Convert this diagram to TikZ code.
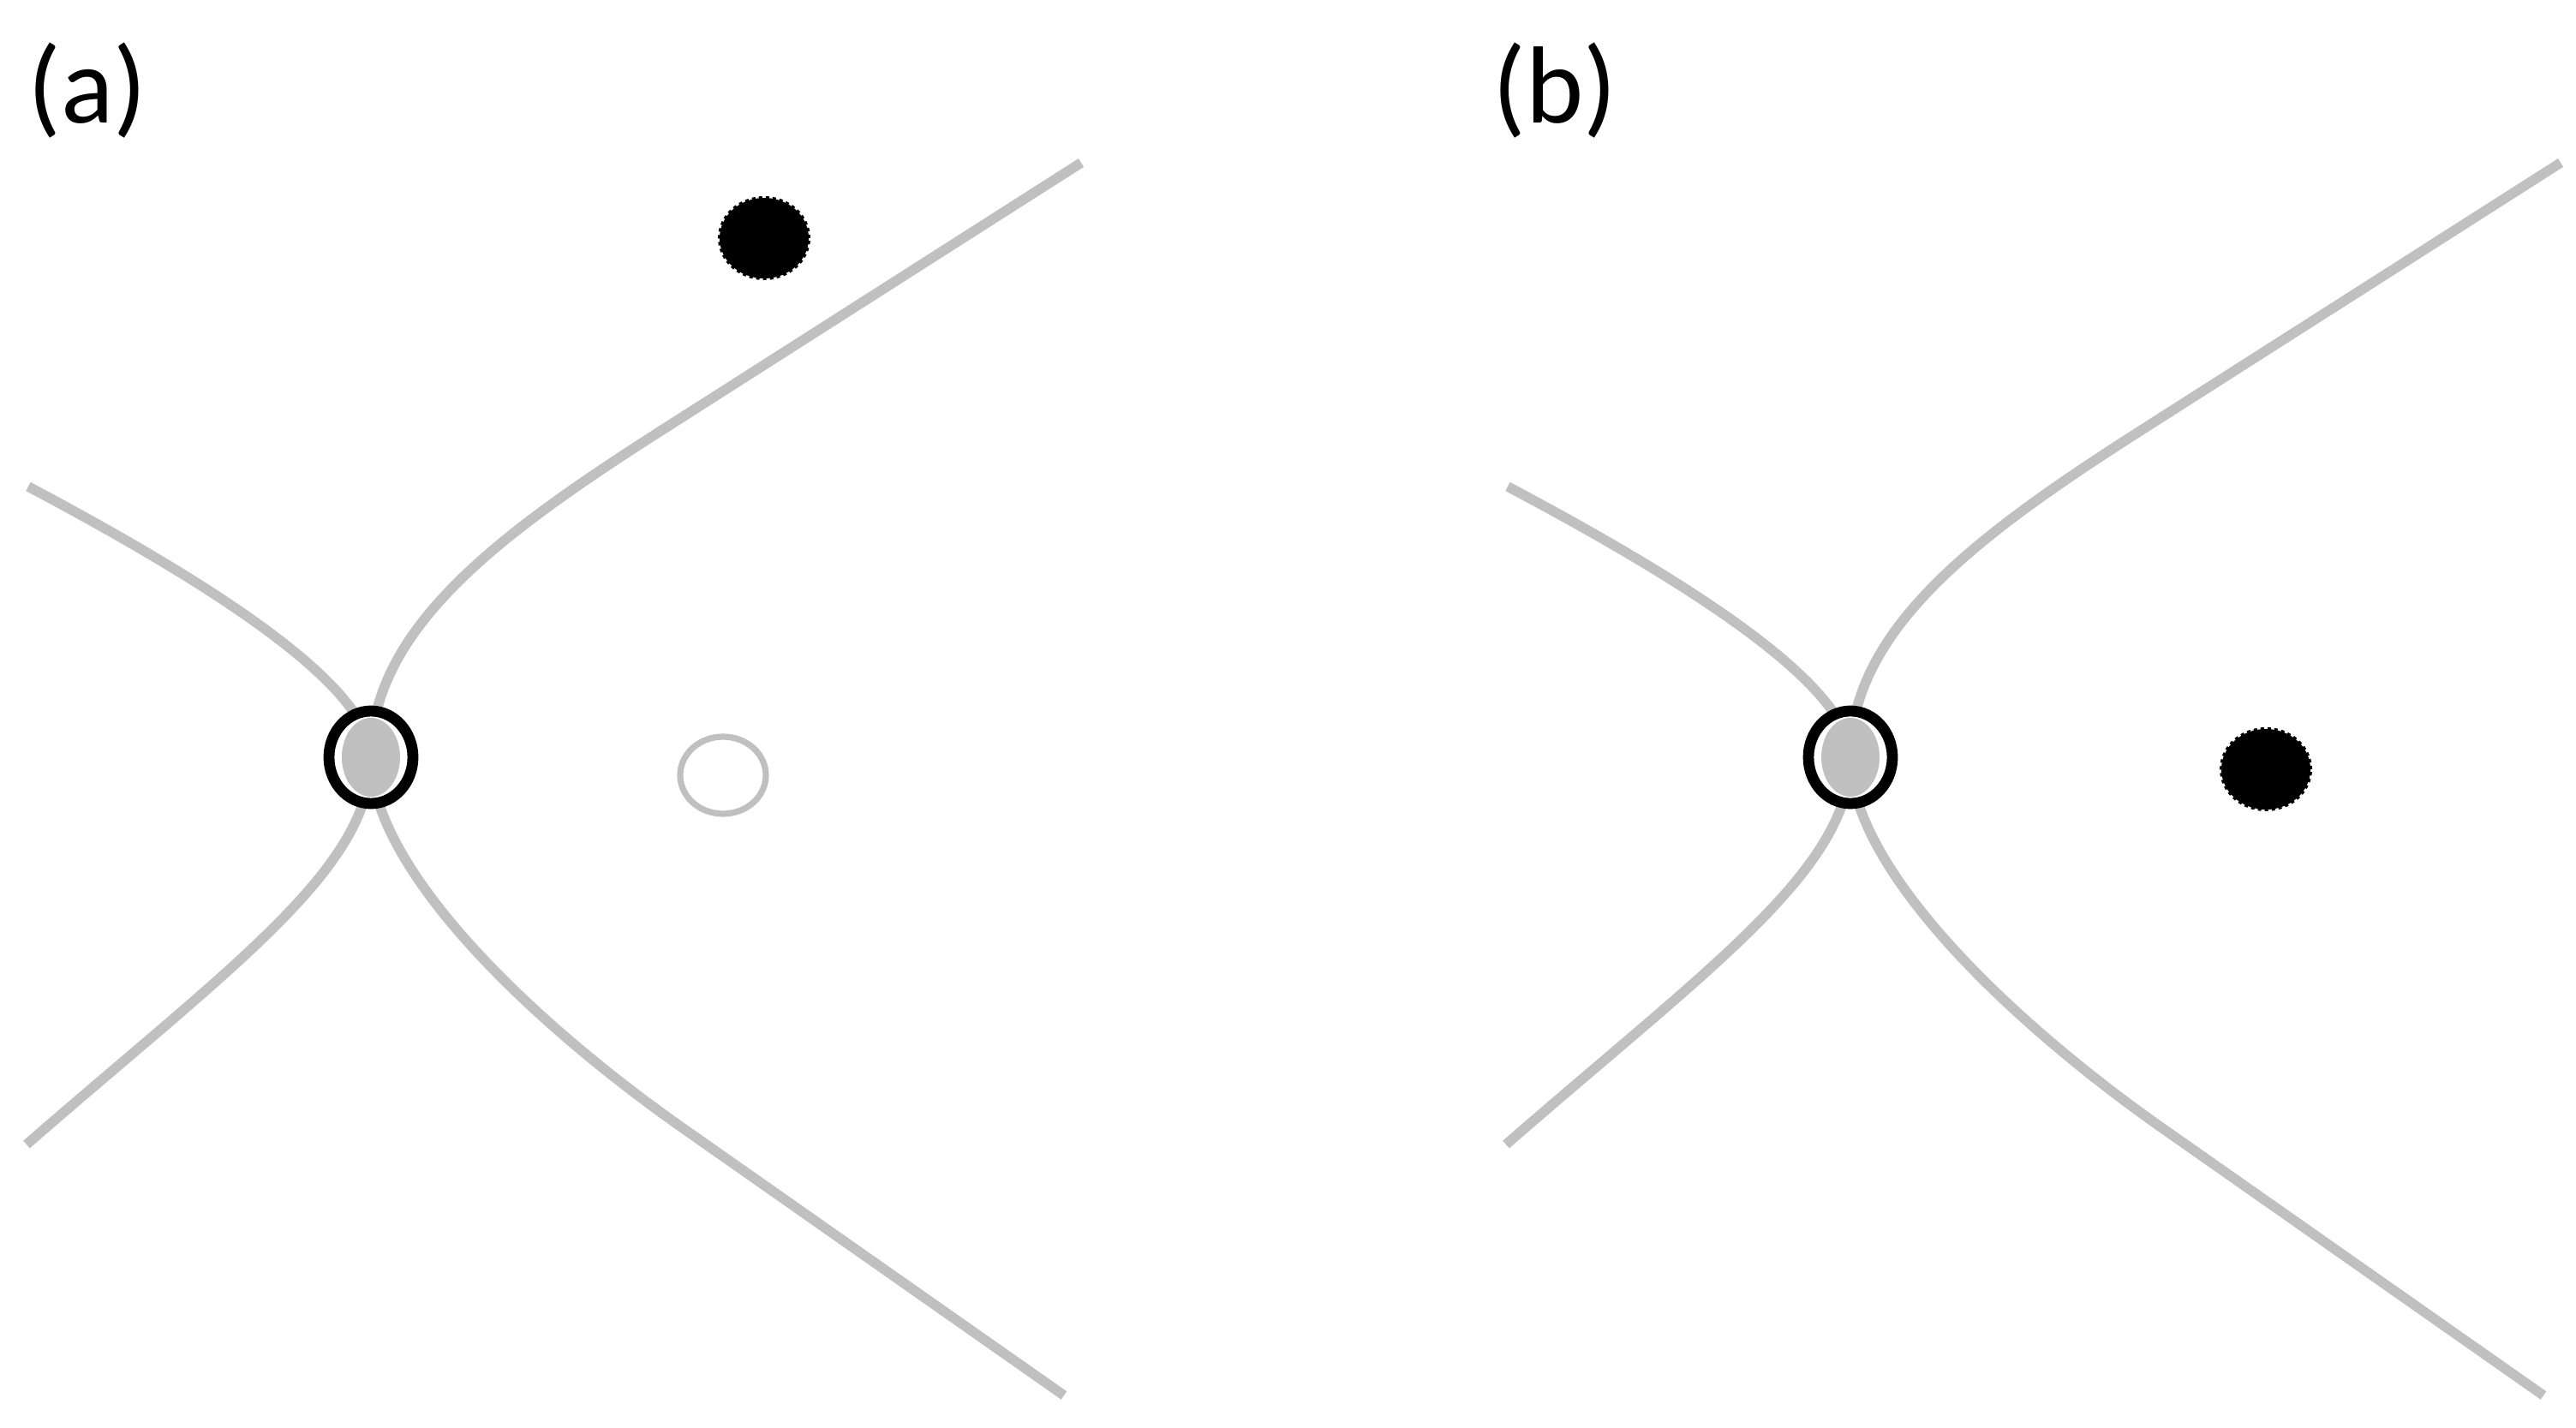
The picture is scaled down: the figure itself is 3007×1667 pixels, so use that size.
\documentclass[tikz,border=0pt]{standalone}
\usepackage{fontspec}
\setmainfont{Carlito}
\usetikzlibrary{shapes.geometric}
\definecolor{linegray}{RGB}{192,192,192}
\tikzset{
  branch/.style={linegray,line width=2.9pt},
  saddle/.style={ellipse,draw=black,line width=3.2pt,fill=white,inner sep=0pt,
    minimum width=24.5pt,minimum height=27pt,
    path picture={\fill[linegray] (path picture bounding box.center) ellipse [x radius=8.5pt,y radius=11.5pt];}},
  hollow/.style={ellipse,draw=linegray,line width=1.8pt,inner sep=0pt,minimum width=25pt,minimum height=22.5pt},
  blob/.style={ellipse,fill=black,draw=black,densely dotted,line width=1pt,inner sep=0pt,
    minimum width=26pt,minimum height=23.5pt},
  tag/.style={anchor=west,inner sep=0pt,font=\fontsize{32}{38}\selectfont}
}

\begin{document}
\begin{tikzpicture}[x=0.25pt,y=-0.25pt]
  \useasboundingbox (0,0) rectangle (3007,1667);
  \foreach \dx/\tg/\lx in {0/a/32,1727/b/1742}{
    \coordinate (c\tg) at (433+\dx,884);
    % right branch
    \draw[branch,shift={(c\tg)}] (829,-694) -- (343,-384) .. controls (150,-261) and (0,-150) .. (0,0)
      .. controls (0,130) and (187,309) .. (367,435) -- (809,745);
    % left branch
    \draw[branch,shift={(c\tg)}] (-400,-316) .. controls (-170,-194) and (0,-80) .. (0,0)
      .. controls (0,130) and (-162,243) .. (-402,452);
    \node[saddle] (s\tg) at (c\tg) {};
    \node[tag] (l\tg) at (\lx,106) {(\tg)};
  }
  \node[hollow] (ghost) at (844,905) {};
  \node[blob] (dota) at (892,278) {};
  \node[blob] (dotb) at (2645,898) {};
\end{tikzpicture}
\end{document}
